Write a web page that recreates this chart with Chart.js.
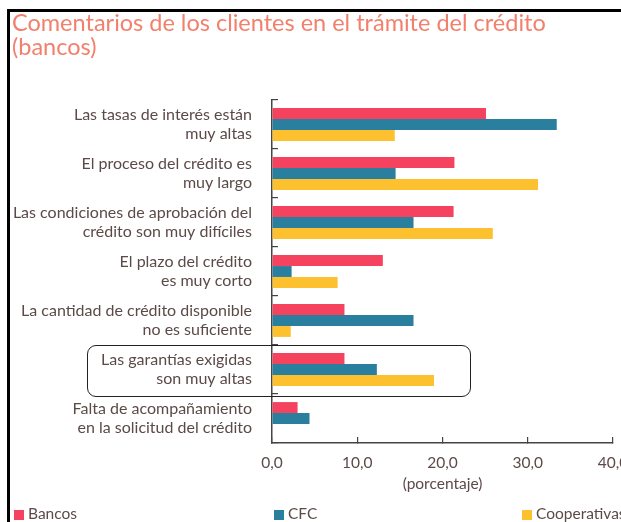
<!DOCTYPE html>
<html>
<head>
<meta charset="utf-8">
<script src="https://cdn.jsdelivr.net/npm/chart.js@4"></script>
<style>
  body { margin: 0; background: #fff; }
  #wrap { position: relative; width: 621px; height: 522px; overflow: hidden; font-family: Lato, "Open Sans", sans-serif; }
  #chartBox { position: absolute; left: 0; top: 0; width: 621px; height: 522px; }
  #title { position: absolute; left: 12px; top: 10px; color: #f2806c; font-size: 23.5px; line-height: 24px; white-space: nowrap; }
  .frameTop { position: absolute; left: 7px; top: 9px; width: 614px; height: 3px; background: #000; }
  .frameLeft { position: absolute; left: 7px; top: 9px; width: 3px; height: 513px; background: #000; }
  #highlight { position: absolute; left: 87px; top: 345px; width: 382px; height: 50px; border: 1.5px solid #222; border-radius: 9px; }
  .leg { position: absolute; top: 504px; font-size: 15.5px; color: #5c4a48; white-space: nowrap; }
  .leg span { display: inline-block; width: 10px; height: 10px; margin-right: 4px; vertical-align: -1px; }
</style>
</head>
<body>
<div id="wrap">
  <div id="chartBox"><canvas id="creditoChart"></canvas></div>
  <div class="frameTop"></div>
  <div class="frameLeft"></div>
  <div id="title">Comentarios de los clientes en el trámite del crédito<br>(bancos)</div>
  <div id="highlight"></div>
  <div id="legend"></div>
</div>
<script>
// categorias (cada una en dos lineas)
var categorias = [
    ["Las tasas de interés están", "muy altas"],
    ["El proceso del crédito es", "muy largo"],
    ["Las condiciones de aprobación del", "crédito son muy difíciles"],
    ["El plazo del crédito", "es muy corto"],
    ["La cantidad de crédito disponible", "no es suficiente"],
    ["Las garantías exigidas", "son muy altas"],
    ["Falta de acompañamiento", "en la solicitud del crédito"]
];

var bancos = [25.1, 21.4, 21.3, 13.0, 8.5, 8.5, 3.0];
var cfc = [33.4, 14.5, 16.6, 2.3, 16.6, 12.3, 4.4];
var cooperativas = [14.4, 31.2, 25.9, 7.7, 2.2, 19.0, 0];

var xTicks = [0, 10, 20, 30, 40];

var textColor = '#5c4a48';
var axisColor = '#444';

var series = [
    { label: 'Bancos', data: bancos, color: '#f5435f', left: 14 },
    { label: 'CFC', data: cfc, color: '#2b7f9e', left: 274 },
    { label: 'Cooperativas', data: cooperativas, color: '#fdc12f', left: 522 }
];

var creditoChart = new Chart(document.getElementById('creditoChart'), {
    type: 'bar',
    data: {
        labels: categorias,
        datasets: series.map(function (s) {
            return {
                label: s.label,
                data: s.data,
                backgroundColor: s.color,
                borderWidth: 0,
                barPercentage: 1,
                categoryPercentage: 0.67
            };
        })
    },
    options: {
        indexAxis: 'y',
        responsive: true,
        maintainAspectRatio: false,
        animation: false,
        layout: { padding: { top: 100, right: 8, left: 0, bottom: 29 } },
        plugins: {
            legend: { display: false },
            tooltip: { enabled: false }
        },
        scales: {
            x: {
                min: 0,
                max: 40,
                afterBuildTicks: function (scale) {
                    scale.ticks = xTicks.map(function (v) { return { value: v }; });
                },
                afterFit: function (scale) {
                    scale.paddingLeft = 0;
                    scale.paddingRight = 0;
                    scale.height = 50;
                },
                grid: { drawOnChartArea: false, tickLength: -6, color: axisColor, lineWidth: 1.2 },
                border: { color: axisColor, width: 1.5 },
                ticks: {
                    padding: 17,
                    color: textColor,
                    font: { family: 'Lato', size: 15.5 },
                    callback: function (v) { return v.toFixed(1).replace('.', ','); }
                },
                title: {
                    display: true,
                    text: '(porcentaje)',
                    color: textColor,
                    font: { family: 'Lato', size: 15.5 },
                    padding: { top: 0, bottom: 0 }
                }
            },
            y: {
                afterFit: function (scale) {
                    scale.width = 272;
                },
                grid: { drawOnChartArea: false, tickLength: -6, color: axisColor, lineWidth: 1.2 },
                border: { color: axisColor, width: 1.5 },
                ticks: {
                    padding: 26,
                    color: textColor,
                    font: { family: 'Lato', size: 16, lineHeight: 1.2 }
                }
            }
        }
    }
});

// leyenda en html
var legendHtml = '';
series.forEach(function (s) {
    legendHtml += '<div class="leg" style="left:' + s.left + 'px"><span style="background:' + s.color + '"></span>' + s.label + '</div>';
});
document.getElementById('legend').innerHTML = legendHtml;
</script>
</body>
</html>
